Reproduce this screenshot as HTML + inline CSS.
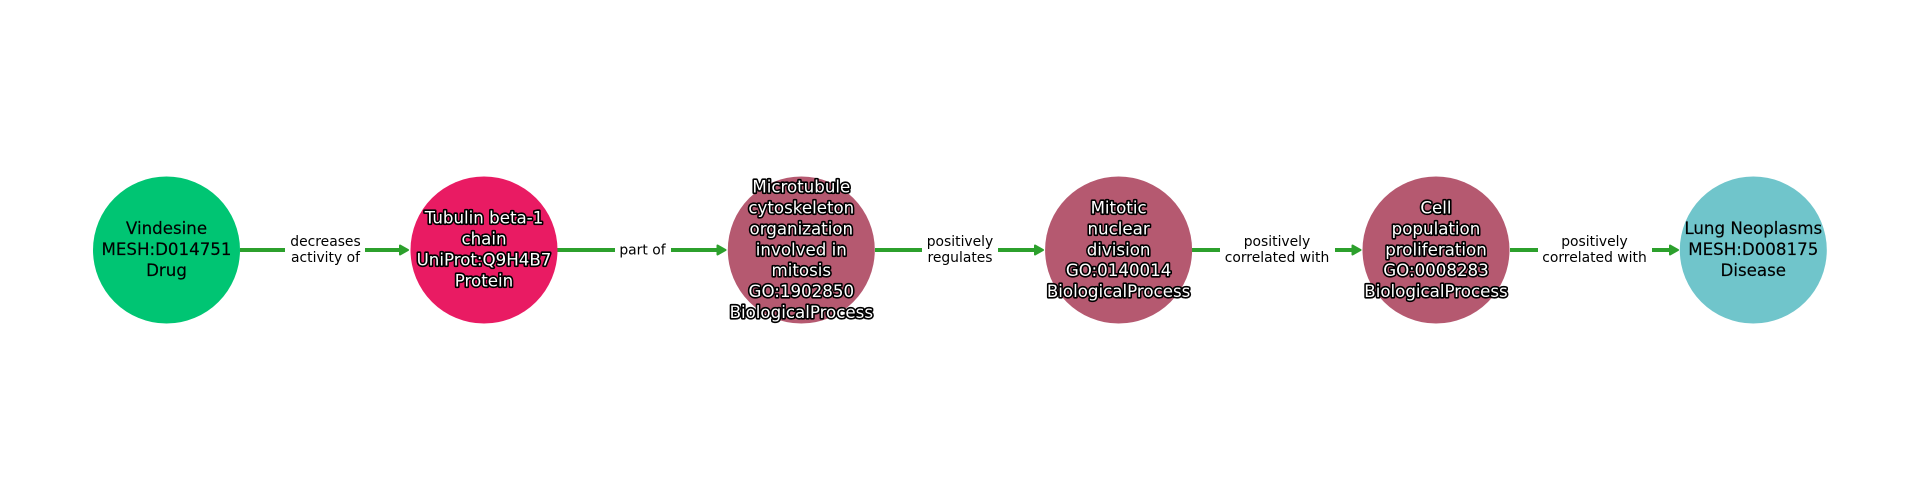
<!DOCTYPE html>
<html><head><meta charset="utf-8"><style>
html,body{margin:0;padding:0;background:#fff;width:1920px;height:500px;overflow:hidden}
svg{display:block}
text{font-family:"DejaVu Sans",sans-serif;text-anchor:middle}
.n{font-size:16.67px;fill:#000;stroke:#000;stroke-width:.15px}
.w{font-size:16.67px;fill:#fff;stroke:#000;stroke-width:3.2px;paint-order:stroke;stroke-linejoin:round}
.e{font-size:13.89px;fill:#000}
</style></head><body>
<svg width="1920" height="500" viewBox="0 0 1920 500" xmlns="http://www.w3.org/2000/svg">
<rect width="1920" height="500" fill="#fff"/>
<g stroke="#2ca02c" stroke-width="4" fill="none">
<path d="M240 250H285M365 250H400"/>
<path d="M557 250H615M671 250H717"/>
<path d="M875 250H922M998 250H1034"/>
<path d="M1192 250H1220M1335 250H1352"/>
<path d="M1510 250H1538M1652 250H1670"/>
</g>
<g fill="#2ca02c" stroke="#2ca02c" stroke-width="2" stroke-linejoin="round">
<path d="M400 245.500L408 250L400 254.500Z"/>
<path d="M717.500 245.500L725.500 250L717.500 254.500Z"/>
<path d="M1035 245.500L1043 250L1035 254.500Z"/>
<path d="M1352.500 245.500L1360.500 250L1352.500 254.500Z"/>
<path d="M1670 245.500L1678 250L1670 254.500Z"/>
</g>
<circle cx="166.500" cy="250" r="73.500" fill="#00c573"/>
<circle cx="484" cy="250" r="73.500" fill="#e91b63"/>
<circle cx="801.300" cy="250" r="73.500" fill="#b55970"/>
<circle cx="1118.600" cy="250" r="73.500" fill="#b55970"/>
<circle cx="1436" cy="250" r="73.500" fill="#b55970"/>
<circle cx="1753.300" cy="250" r="73.500" fill="#70c5cb"/>
<g class="n">
<text x="166.500" y="234">Vindesine</text>
<text x="166.500" y="255">MESH:D014751</text>
<text x="166.500" y="276">Drug</text>
<text x="1753.300" y="234">Lung Neoplasms</text>
<text x="1753.300" y="255">MESH:D008175</text>
<text x="1753.300" y="276">Disease</text>
</g>
<g class="w">
<text x="484" y="223.500">Tubulin beta-1</text>
<text x="484" y="244.500">chain</text>
<text x="484" y="265.500">UniProt:Q9H4B7</text>
<text x="484" y="286.500">Protein</text>
<text x="801.300" y="192.500">Microtubule</text>
<text x="801.300" y="213.500">cytoskeleton</text>
<text x="801.300" y="234.500">organization</text>
<text x="801.300" y="255.500">involved in</text>
<text x="801.300" y="276">mitosis</text>
<text x="801.300" y="297">GO:1902850</text>
<text x="801.300" y="318">BiologicalProcess</text>
<text x="1118.600" y="213.500">Mitotic</text>
<text x="1118.600" y="234.500">nuclear</text>
<text x="1118.600" y="255.500">division</text>
<text x="1118.600" y="276">GO:0140014</text>
<text x="1118.600" y="297">BiologicalProcess</text>
<text x="1436" y="213.500">Cell</text>
<text x="1436" y="234.500">population</text>
<text x="1436" y="255.500">proliferation</text>
<text x="1436" y="276">GO:0008283</text>
<text x="1436" y="297">BiologicalProcess</text>
</g>
<g class="e">
<text x="325.500" y="246">decreases</text>
<text x="325.500" y="262">activity of</text>
<text x="642.500" y="254.500">part of</text>
<text x="960" y="246">positively</text>
<text x="960" y="262">regulates</text>
<text x="1277" y="246">positively</text>
<text x="1277" y="262">correlated with</text>
<text x="1594.500" y="246">positively</text>
<text x="1594.500" y="262">correlated with</text>
</g>
</svg>
</body></html>
